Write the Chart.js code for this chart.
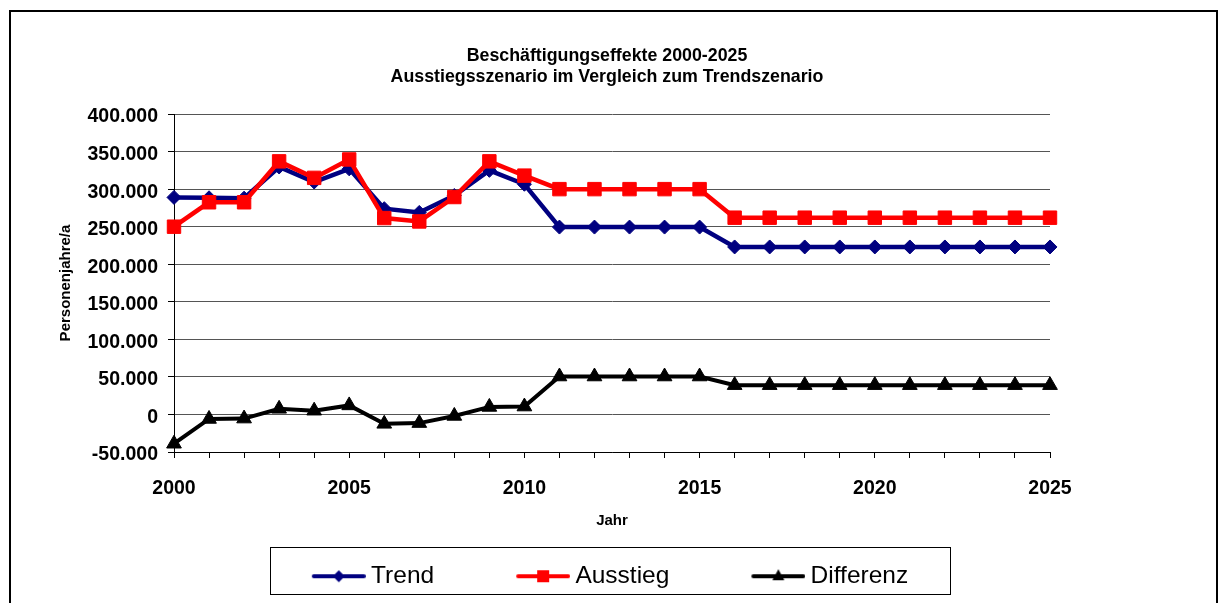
<!DOCTYPE html>
<html>
<head>
<meta charset="utf-8">
<script src="https://cdn.jsdelivr.net/npm/chart.js@4.4.1/dist/chart.umd.min.js"></script>
<style>
  body { margin: 0; background: #fff; }
  #wrap { width: 1222px; height: 603px; }
</style>
</head>
<body>
<div id="wrap"><canvas id="Graph" width="1222" height="603"></canvas></div>
<script>
var years = ["2000", "2001", "2002", "2003", "2004", "2005", "2006", "2007", "2008", "2009",
             "2010", "2011", "2012", "2013", "2014", "2015", "2016", "2017", "2018", "2019",
             "2020", "2021", "2022", "2023", "2024", "2025"];

var trend = [289000, 288500, 288000, 329500, 309500, 327000, 274000, 269000, 291500, 325000,
             306500, 249500, 249500, 249500, 249500, 249500, 223000, 223000, 223000, 223000,
             223000, 223000, 223000, 223000, 223000, 223000];

var ausstieg = [250000, 282500, 282500, 337000, 315000, 339500, 261500, 257000, 289500, 337000,
                318000, 300000, 300000, 300000, 300000, 300000, 262000, 262000, 262000, 262000,
                262000, 262000, 262000, 262000, 262000, 262000];

var differenz = [-39000, -6000, -5500, 7500, 5000, 12000, -12500, -11500, -2000, 10000,
                 10500, 50500, 50500, 50500, 50500, 50500, 39000, 39000, 39000, 39000,
                 39000, 39000, 39000, 39000, 39000, 39000];

var titleLines = ["Beschäftigungseffekte 2000-2025", "Ausstiegsszenario im Vergleich zum Trendszenario"];

var FONT = "'Liberation Sans', Arial, sans-serif";
var LEGEND_SIZE = 24.5;

// legend swatch: blank space on its left makes the gap between items
var BOX_W = 123;
function makeSwatch(color, shape) {
    var c = document.createElement("canvas");
    c.width = BOX_W + 14;
    c.height = 22;
    var g = c.getContext("2d");
    var x0 = c.width - 54, cx = c.width - 27, cy = 11;
    g.strokeStyle = color;
    g.fillStyle = color;
    g.lineWidth = 4;
    g.lineCap = "round";
    g.beginPath();
    g.moveTo(x0 + 2, cy);
    g.lineTo(c.width - 2, cy);
    g.stroke();
    g.beginPath();
    if (shape == "diamond") {
        g.moveTo(cx - 6, cy); g.lineTo(cx, cy - 6); g.lineTo(cx + 6, cy); g.lineTo(cx, cy + 6);
    } else if (shape == "square") {
        g.rect(cx - 6, cy - 6, 12, 12);
    } else {
        g.moveTo(cx, cy - 7); g.lineTo(cx + 6, cy + 4); g.lineTo(cx - 6, cy + 4);
    }
    g.closePath();
    g.fill();
    return c;
}

function formatNumber(v) {
    var s = Math.abs(v).toString().replace(/\B(?=(\d{3})+(?!\d))/g, ".");
    return (v < 0 ? "-" : "") + s;
}

var frame = {
    id: "frame",
    afterLayout: function (chart) {
        // title is centred on the whole picture, not on the legend box
        chart.titleBlock.left += 35;
        chart.titleBlock.right += 35;
    },
    afterDraw: function (chart) {
        var ctx = chart.ctx;
        ctx.save();
        ctx.strokeStyle = "#000";
        ctx.lineWidth = 2;
        ctx.strokeRect(10, 11, 1207, 700);

        var hb = chart.legend.legendHitBoxes;
        if (hb && hb.length) {
            var left = hb[0].left + BOX_W - 47;
            var right = hb[hb.length - 1].left + hb[hb.length - 1].width;
            var cx = (left + right) / 2;
            var cy = hb[0].top + hb[0].height / 2;
            ctx.lineWidth = 1;
            ctx.strokeStyle = "#000";
            ctx.strokeRect(Math.round(cx - 340) + 0.5, Math.round(cy - 29) + 0.5, 680, 47);
        }
        ctx.restore();
    }
};

function setupGraph() {
    Chart.defaults.color = "#000";
    Chart.defaults.font.family = FONT;

    var swatches = [makeSwatch("#000080", "diamond"), makeSwatch("#ff0000", "square"), makeSwatch("#000000", "triangle")];

    var context = document.getElementById("Graph").getContext("2d");
    var chart = new Chart(context, {
        type: "line",
        data: {
            labels: years,
            datasets: [{
                label: "Trend",
                data: trend,
                borderColor: "#000080",
                backgroundColor: "#000080",
                borderWidth: 4.5,
                pointStyle: "rectRot",
                pointRadius: 7,
                pointBorderWidth: 1,
                lineTension: 0,
                order: 2
            }, {
                label: "Ausstieg",
                data: ausstieg,
                borderColor: "#ff0000",
                backgroundColor: "#ff0000",
                borderWidth: 4.5,
                pointStyle: "rect",
                pointRadius: 9.5,
                pointBorderWidth: 1,
                lineTension: 0,
                order: 1
            }, {
                label: "Differenz",
                data: differenz,
                borderColor: "#000000",
                backgroundColor: "#000000",
                borderWidth: 4,
                pointStyle: "triangle",
                pointRadius: 8.5,
                pointBorderWidth: 1,
                lineTension: 0,
                order: 0
            }]
        },
        options: {
            responsive: false,
            animation: false,
            devicePixelRatio: 1,
            layout: { padding: { left: 0, right: 78, top: 0, bottom: 4.5 } },
            plugins: {
                tooltip: { enabled: false },
                title: {
                    display: true,
                    text: titleLines,
                    font: { family: FONT, size: 17.8, weight: "bold", lineHeight: 1.22 },
                    padding: { top: 45, bottom: 25.6 }
                },
                legend: {
                    position: "bottom",
                    labels: {
                        font: { family: FONT, size: LEGEND_SIZE },
                        usePointStyle: true,
                        pointStyleWidth: BOX_W,
                        padding: 6,
                        generateLabels: function (chart) {
                            return chart.data.datasets.map(function (ds, i) {
                                return {
                                    text: ds.label,
                                    pointStyle: swatches[i],
                                    fillStyle: ds.borderColor,
                                    strokeStyle: ds.borderColor,
                                    lineWidth: 0,
                                    hidden: false,
                                    datasetIndex: i
                                };
                            });
                        }
                    }
                }
            },
            scales: {
                x: {
                    offset: false,
                    grid: { drawOnChartArea: false, drawTicks: true, tickLength: 6, tickColor: "#000" },
                    border: { color: "#000", width: 1 },
                    ticks: {
                        autoSkip: false,
                        maxRotation: 0,
                        padding: 19,
                        font: { family: FONT, size: 19.5, weight: "bold" },
                        callback: function (value) {
                            var label = this.getLabelForValue(value);
                            return (+label) % 5 === 0 ? label : "";
                        }
                    },
                    title: {
                        display: true,
                        text: "Jahr",
                        font: { family: FONT, size: 15, weight: "bold" },
                        padding: { top: 0, bottom: 28 }
                    },
                    afterFit: function (scale) { scale.height = 106; }
                },
                y: {
                    min: -50000,
                    max: 400000,
                    grid: { color: "#555", lineWidth: 1, tickLength: 6, tickColor: "#000" },
                    border: { color: "#000", width: 1 },
                    ticks: {
                        stepSize: 50000,
                        padding: 10,
                        labelOffset: 3,
                        font: { family: FONT, size: 19.5, weight: "bold" },
                        callback: function (value) { return formatNumber(value); }
                    },
                    title: {
                        display: true,
                        text: "Personenjahre/a",
                        font: { family: FONT, size: 15, weight: "bold" },
                        padding: { top: 57, bottom: 0 }
                    },
                    afterFit: function (scale) { scale.width = 174; }
                },
                yRight: {
                    position: "right",
                    display: true,
                    grid: { display: false },
                    border: { display: false },
                    ticks: { display: false },
                    afterFit: function (scale) { scale.width = 94; }
                }
            }
        },
        plugins: [frame]
    });
}

setupGraph();
</script>
</body>
</html>
